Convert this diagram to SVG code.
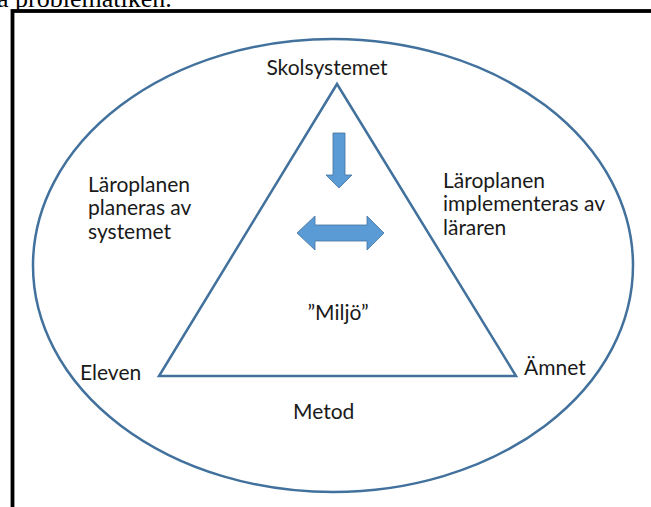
<svg xmlns="http://www.w3.org/2000/svg" width="651" height="507" viewBox="0 0 651 507">
<style>
.lbl{font-family:Lato,"Open Sans","Liberation Sans",sans-serif;font-size:21px;fill:#1a1a1a}
.shape{fill:none;stroke:#41719C;stroke-width:2.5}
.arrow{fill:#5B9BD5;stroke:#41719C;stroke-width:0.8}
</style>
<rect width="651" height="507" fill="#ffffff"/>
<text x="-3" y="7" font-family="'Liberation Serif',serif" font-size="26" fill="#000">a  problematiken.</text>
<rect x="12.5" y="11" width="660" height="520" fill="none" stroke="#000" stroke-width="3.8"/>
<g id="ellipse"><ellipse class="shape" cx="333" cy="265.5" rx="300" ry="226.5"/></g>
<g id="triangle"><polygon class="shape" points="337,84 159,376 516,376"/></g>
<g id="skolsystemet"><text class="lbl" x="327" y="75" text-anchor="middle">Skolsystemet</text></g>
<g id="eleven"><text class="lbl" x="80" y="380">Eleven</text></g>
<g id="amnet"><text class="lbl" x="524" y="375">Ämnet</text></g>
<g id="metod"><text class="lbl" x="293" y="419">Metod</text></g>
<g id="miljo"><text class="lbl" x="338" y="320" text-anchor="middle">”Miljö”</text></g>
<g id="left-label"><text class="lbl"><tspan x="88" y="192">Läroplanen</tspan><tspan x="88" y="215">planeras av</tspan><tspan x="88" y="239">systemet</tspan></text></g>
<g id="right-label"><text class="lbl"><tspan x="443" y="188">Läroplanen</tspan><tspan x="443" y="211">implementeras av</tspan><tspan x="443" y="235">läraren</tspan></text></g>
<g id="connectors">
<polygon class="arrow" points="333,133 345,133 345,175 352,175 339,188 326,175 333,175"/>
<polygon class="arrow" points="297,233 315,216 315,225 367,225 367,216 384,233 367,250 367,241 315,241 315,250"/>
</g>
</svg>
